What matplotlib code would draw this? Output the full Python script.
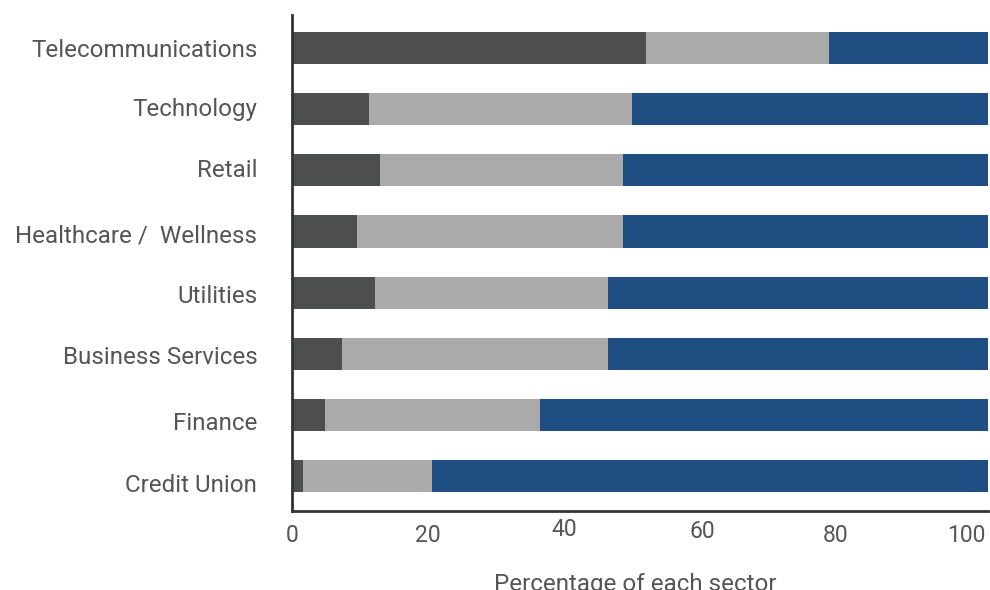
import matplotlib
matplotlib.use("Agg")
import matplotlib.pyplot as plt
import matplotlib.transforms as mtransforms

categories = ["Telecommunications", "Technology", "Retail", "Healthcare /  Wellness",
              "Utilities", "Business Services", "Finance", "Credit Union"]
series_dark = [50.9, 11.1, 12.6, 9.3, 11.9, 7.2, 4.7, 1.6]
series_gray = [26.3, 37.8, 35.0, 38.3, 33.5, 38.2, 30.9, 18.5]
series_blue = [22.8, 51.1, 52.4, 52.4, 54.6, 54.6, 64.4, 79.9]
xticks = [0, 20, 40, 60, 80, 100]

colors = ["#4d4f4e", "#aaaaaa", "#1f4e82"]
text_color = "#555555"

plt.rcParams['font.family'] = ['Roboto', 'DejaVu Sans']

fig = plt.figure(figsize=(9.9, 5.9), dpi=100)
ax = fig.add_axes([292/990, 1-511/590, 696/990, 496/590])

n = len(categories)
ypos = list(range(n))[::-1]
left = [0]*n
for vals, c in zip([series_dark, series_gray, series_blue], colors):
    ax.barh(ypos, vals, left=left, height=0.525, color=c, linewidth=0)
    left = [a+b for a, b in zip(left, vals)]

ax.set_xlim(0, 100)
ax.set_ylim(-0.57, n-1+0.54)
ax.set_yticks(ypos)
ax.set_yticklabels(categories, fontsize=17.4, color=text_color)
ax.set_xticks(xticks)
ax.set_xticklabels([str(t) for t in xticks], fontsize=16.5, color=text_color)
ax.tick_params(axis='both', length=0)
ax.tick_params(axis='y', pad=25)
ax.tick_params(axis='x', pad=9)

# label placement quirks as in the reference (pixel offsets dx, dy)
xoff = [(0, 0), (-3, 0), (-6, 6), (-7, 4), (-13, 0), (-22, 0)]
for lab, (dx, dy) in zip(ax.get_xticklabels(), xoff):
    lab.set_transform(lab.get_transform() + mtransforms.ScaledTranslation(dx/100, dy/100, fig.dpi_scale_trans))
yoff = [0, 2, 2, -2, -1, -1, -6, -7]
for lab, o in zip(ax.get_yticklabels(), yoff):
    lab.set_transform(lab.get_transform() + mtransforms.ScaledTranslation(0, o/100, fig.dpi_scale_trans))

ax.set_xlabel("Percentage of each sector", fontsize=17.4, color=text_color, labelpad=19)
ax.xaxis.set_label_coords(0.4925, -0.125)

for s in ["top", "right"]:
    ax.spines[s].set_visible(False)
for s in ["left", "bottom"]:
    ax.spines[s].set_color("#333333")
    ax.spines[s].set_linewidth(2)

fig.savefig("out.png", dpi=100)
